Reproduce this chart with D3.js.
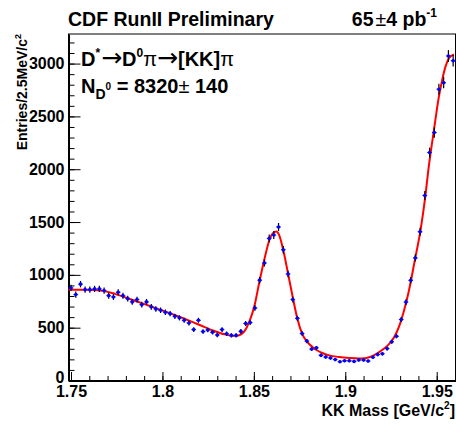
<!DOCTYPE html>
<html><head><meta charset="utf-8">
<script src="https://cdn.jsdelivr.net/npm/d3@7"></script>
<style>
html,body{margin:0;padding:0;background:#fff;}
svg{display:block;font-family:"Liberation Sans",Arial,Helvetica,sans-serif;font-weight:bold;}
</style></head>
<body>
<svg id="c" width="456" height="424"></svg>
<script>
// ---- data ----
const mass = [1.7500,1.7526,1.7552,1.7577,1.7603,1.7629,1.7655,1.7681,1.7706,1.7732,
1.7758,1.7784,1.7810,1.7835,1.7861,1.7887,1.7913,1.7939,1.7964,1.7990,
1.8016,1.8042,1.8068,1.8093,1.8119,1.8145,1.8171,1.8197,1.8222,1.8248,
1.8274,1.8300,1.8326,1.8351,1.8377,1.8403,1.8429,1.8455,1.8480,1.8506,
1.8532,1.8558,1.8584,1.8609,1.8635,1.8661,1.8687,1.8713,1.8738,1.8764,
1.8790,1.8816,1.8842,1.8867,1.8893,1.8919,1.8945,1.8971,1.8996,1.9022,
1.9048,1.9074,1.9100,1.9125,1.9151,1.9177,1.9203,1.9229,1.9254,1.9280,
1.9306,1.9332,1.9358,1.9383,1.9409,1.9435,1.9461,1.9487,1.9512,1.9538,
1.9564,1.9590];
const entries = [876,813,912,860,860,867,867,851,803,791,
835,803,775,744,766,718,744,697,678,665,
646,633,608,593,570,545,482,570,463,478,
457,431,482,443,427,427,465,540,548,687,
950,1112,1345,1377,1453,1238,1008,766,589,444,
373,297,309,238,222,213,198,178,187,187,
181,194,194,184,220,246,253,302,366,419,
577,742,948,1160,1408,1751,2158,2347,2757,2819,
3072,3027];
const binHalfWidth = 0.00129;
const fitMass = [1.7486,1.7576,1.7631,1.7680,1.7740,1.7822,1.7931,1.8040,1.8149,1.8231,
1.8285,1.8340,1.8378,1.8405,1.8427,1.8449,1.8476,1.8503,1.8531,1.8558,
1.8585,1.8607,1.8623,1.8640,1.8662,1.8689,1.8716,1.8738,1.8765,1.8792,
1.8820,1.8847,1.8874,1.8912,1.8967,1.9021,1.9076,1.9103,1.9130,1.9158,
1.9185,1.9212,1.9239,1.9267,1.9294,1.9321,1.9348,1.9381,1.9412,1.9436,
1.9457,1.9485,1.9512,1.9530,1.9548,1.9567,1.9594];
const fitValue = [860,860,857,848,820,772,705,637,565,505,
468,437,424,423,435,468,560,705,940,1150,
1330,1398,1410,1370,1225,995,760,585,440,365,
318,284,260,238,222,213,208,210,220,240,
268,302,345,410,510,660,850,1144,1428,1720,
2030,2372,2687,2845,2971,3050,3087];
const xMajorTicks = [1.75,1.8,1.85,1.9,1.95];
const xMinorTicks = [1.75,1.76,1.77,1.78,1.79,1.8,1.81,1.82,1.83,1.84,1.85,1.86,1.87,1.88,1.89,1.9,1.91,1.92,1.93,1.94,1.95];
const yMajorTicks = [0,500,1000,1500,2000,2500,3000];
const yMinorTicks = d3.range(0,3201,100);

// ---- layout ----
const L=68.5, R=455.5, T=34, B=380.5;
const svg = d3.select("#c");
const x = d3.scaleLinear().domain([1.74863,1.96028]).range([L,R]);
const y = d3.scaleLinear().domain([0,3280]).range([B,T]);

// frame
svg.append("rect").attr("x",L).attr("y",T).attr("width",R-L).attr("height",B-T)
  .attr("fill","none").attr("stroke","#000").attr("stroke-width",1);

// axes
const gx = svg.append("g").attr("transform",`translate(0,${B})`);
gx.call(d3.axisBottom(x).tickValues(xMinorTicks).tickSizeInner(-4.5).tickSizeOuter(0).tickFormat(""));
gx.select(".domain").remove();
const gx2 = svg.append("g").attr("transform",`translate(0,${B})`);
gx2.call(d3.axisBottom(x).tickValues(xMajorTicks).tickSizeInner(-8.5).tickSizeOuter(0).tickPadding(5).tickFormat(d3.format("")));
gx2.select(".domain").attr("stroke-width",2);
gx2.selectAll("text").attr("font-size",16).attr("font-family",null).attr("font-weight","bold").attr("fill","#000");

const gy = svg.append("g").attr("transform",`translate(${L},0)`);
gy.call(d3.axisLeft(y).tickValues(yMinorTicks).tickSizeInner(-6).tickSizeOuter(0).tickFormat(""));
gy.select(".domain").remove();
const gy2 = svg.append("g").attr("transform",`translate(${L},0)`);
gy2.call(d3.axisLeft(y).tickValues(yMajorTicks).tickSizeInner(-12).tickSizeOuter(0).tickPadding(4).tickFormat(d3.format("d")));
gy2.select(".domain").attr("stroke-width",2);
gy2.selectAll("text").attr("font-size",16).attr("font-family",null).attr("font-weight","bold").attr("fill","#000");
gy2.selectAll(".tick").filter(d=>d===0).select("text").attr("dy","0.1em");
svg.selectAll(".tick line").attr("stroke","#000").attr("stroke-width",1);

// fit curve
const fit = fitMass.map((m,i)=>[m,fitValue[i]]);
svg.append("path").datum(fit)
  .attr("d", d3.line().x(d=>x(d[0])).y(d=>y(d[1])).curve(d3.curveMonotoneX))
  .attr("fill","none").attr("stroke","#ff0000").attr("stroke-width",2);

// data points
const pts = mass.map((m,i)=>({m, v:entries[i]}));
const gp = svg.append("g");
gp.selectAll("line.ey").data(pts).join("line").attr("class","ey")
  .attr("x1",d=>x(d.m)).attr("x2",d=>x(d.m))
  .attr("y1",d=>y(d.v+Math.sqrt(d.v))).attr("y2",d=>y(d.v-Math.sqrt(d.v)))
  .attr("stroke","#000").attr("stroke-width",1.2);
gp.selectAll("line.ex").data(pts).join("line").attr("class","ex")
  .attr("x1",d=>x(d.m-binHalfWidth)).attr("x2",d=>x(d.m+binHalfWidth))
  .attr("y1",d=>y(d.v)).attr("y2",d=>y(d.v))
  .attr("stroke","#1a1aff").attr("stroke-width",1);
gp.selectAll("circle").data(pts).join("circle")
  .attr("cx",d=>x(d.m)).attr("cy",d=>y(d.v)).attr("r",1.8).attr("fill","#0000ff");

// titles
svg.append("text").attr("x",68).attr("y",26).attr("font-size",19.5).text("CDF RunII Preliminary");
const lum = svg.append("text").attr("x",437).attr("y",26).attr("font-size",19.5).attr("text-anchor","end");
lum.append("tspan").text("65");
lum.append("tspan").attr("font-weight","normal").attr("dx",2).text("±");
lum.append("tspan").text("4 pb");
lum.append("tspan").attr("font-size",12).attr("dy",-9).text("-1");

const arrowFont = "DejaVu Sans";
const t1 = svg.append("text").attr("x",81).attr("y",66).attr("font-size",20);
t1.append("tspan").text("D");
t1.append("tspan").attr("font-size",12).attr("dy",-9).text("*");
t1.append("tspan").attr("font-family",arrowFont).attr("font-weight","normal").attr("font-size",25).attr("dy",9).attr("dx",1).text("→");
t1.append("tspan").text("D");
t1.append("tspan").attr("font-size",12).attr("dy",-9).text("0");
t1.append("tspan").attr("font-weight","normal").attr("dy",9).text("π");
t1.append("tspan").attr("font-family",arrowFont).attr("font-weight","normal").attr("font-size",25).text("→");
t1.append("tspan").text("[KK]");
t1.append("tspan").attr("font-weight","normal").text("π");

const t2 = svg.append("text").attr("x",81).attr("y",93).attr("font-size",20);
t2.append("tspan").text("N");
t2.append("tspan").attr("font-size",14).attr("dy",6).text("D");
t2.append("tspan").attr("font-size",10).attr("dy",-9).text("0");
t2.append("tspan").attr("dy",3).text(" = 8320");
t2.append("tspan").attr("font-weight","normal").text("±");
t2.append("tspan").text(" 140");

// axis titles
const xt = svg.append("text").attr("x",455).attr("y",416).attr("font-size",16).attr("text-anchor","end");
xt.append("tspan").text("KK Mass [GeV/c");
xt.append("tspan").attr("font-size",10).attr("dy",-7).text("2");
xt.append("tspan").attr("dy",7).text("]");

const yt = svg.append("text").attr("transform","translate(26.5,34) rotate(-90)")
  .attr("font-size",14).attr("text-anchor","end");
yt.append("tspan").text("Entries/2.5MeV/c");
yt.append("tspan").attr("font-size",9).attr("dy",-6).text("2");
</script>
</body></html>
